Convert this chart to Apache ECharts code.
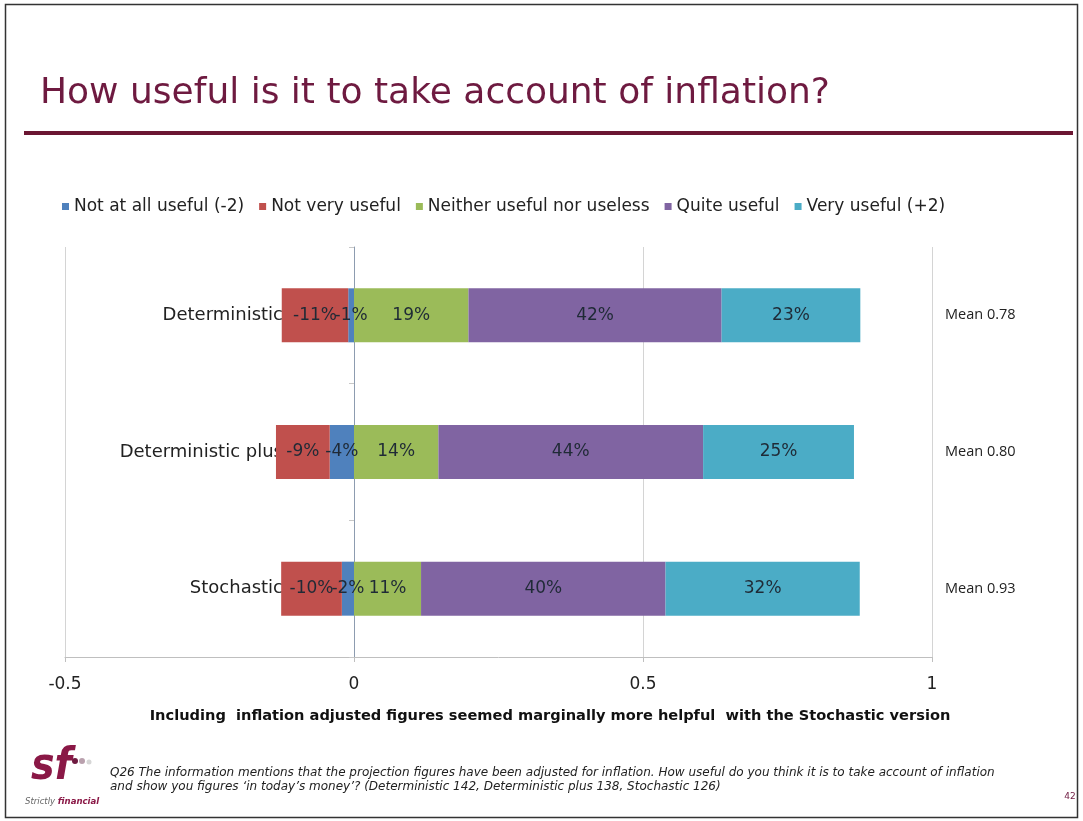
<!DOCTYPE html>
<html lang="en">
<head>
    <meta charset="UTF-8">
    <title>How useful is it to take account of inflation?</title>
    <script src="https://cdn.jsdelivr.net/npm/echarts@6/dist/echarts.min.js"></script>
    <style>
        html, body { margin: 0; padding: 0; background: #fff; }
        #chart { width: 1083px; height: 821px; }
    </style>
</head>
<body>
    <div id="chart"></div>
    <script>
        var categories = ['Deterministic', 'Deterministic plus', 'Stochastic'];
        var means = ['Mean 0.78', 'Mean 0.80', 'Mean 0.93'];
        var seriesNames = ['Not at all useful (-2)', 'Not very useful', 'Neither useful nor useless', 'Quite useful', 'Very useful (+2)'];
        var colors = ['#4f81bd', '#c0504d', '#9bbb59', '#8064a2', '#4bacc6'];

        // bar lengths as drawn (share of answers), negatives to the left of zero
        var notAtAll = [-0.010, -0.042, -0.021];
        var notVery = [-0.115, -0.093, -0.105];
        var neither = [0.198, 0.146, 0.116];
        var quite = [0.438, 0.458, 0.423];
        var very = [0.240, 0.261, 0.336];

        // percentages printed on the bars
        var notAtAllLabels = ['-1%', '-4%', '-2%'];
        var notVeryLabels = ['-11%', '-9%', '-10%'];
        var neitherLabels = ['19%', '14%', '11%'];
        var quiteLabels = ['42%', '44%', '40%'];
        var veryLabels = ['23%', '25%', '32%'];

        var xTicks = { min: -0.5, max: 1, interval: 0.5 };

        var values = [notAtAll, notVery, neither, quite, very];
        var labels = [notAtAllLabels, notVeryLabels, neitherLabels, quiteLabels, veryLabels];

        var font = 'DejaVu Sans';
        var maroon = '#6e1a40';

        var series = seriesNames.map(function (name, i) {
            return {
                name: name,
                type: 'bar',
                stack: 'total',
                barWidth: 54,
                itemStyle: { color: colors[i] },
                label: {
                    show: true,
                    position: 'inside',
                    color: '#1f2a36',
                    fontFamily: font,
                    fontSize: 17,
                    formatter: function (p) { return labels[i][p.dataIndex]; }
                },
                data: values[i]
            };
        });

        var myChart = echarts.init(document.getElementById('chart'));
        myChart.setOption({
            animation: false,
            backgroundColor: '#fff',
            title: {
                text: 'How useful is it to take account of inflation?',
                left: 35,
                top: 71,
                textStyle: { fontFamily: font, fontSize: 36, fontWeight: 'normal', color: maroon }
            },
            legend: {
                left: 57,
                top: 193,
                itemWidth: 7,
                itemHeight: 7,
                itemGap: 15,
                icon: 'rect',
                textStyle: { fontFamily: font, fontSize: 17, color: '#222' },
                data: seriesNames
            },
            grid: { left: 65, right: 151, top: 247, bottom: 164, outerBoundsMode: 'none' },
            xAxis: {
                type: 'value',
                min: xTicks.min,
                max: xTicks.max,
                interval: xTicks.interval,
                axisLine: { show: true, lineStyle: { color: '#bfbfbf' } },
                axisTick: { show: true, length: 5, lineStyle: { color: '#bfbfbf' } },
                axisLabel: { fontFamily: font, fontSize: 17, color: '#222', margin: 19 },
                splitLine: { show: true, lineStyle: { color: '#d4d4d4' } }
            },
            yAxis: [{
                type: 'category',
                inverse: true,
                data: categories,
                axisLine: { show: true, onZero: true, lineStyle: { color: '#8d9cb0' } },
                axisTick: { show: true, length: 5, lineStyle: { color: '#c8c8c8' } },
                axisLabel: { fontFamily: font, fontSize: 18, color: '#222', margin: -218 }
            }, {
                type: 'category',
                inverse: true,
                position: 'right',
                data: means,
                axisLine: { show: false, onZero: false },
                axisTick: { show: false },
                axisLabel: { fontFamily: 'Open Sans', fontSize: 14.5, color: '#222', margin: 13, align: 'left' }
            }],
            series: series,
            graphic: [
                { type: 'rect', shape: { x: 5.5, y: 4.5, width: 1072, height: 813 }, style: { fill: 'none', stroke: '#333', lineWidth: 1.5 } },
                { type: 'rect', shape: { x: 24, y: 131, width: 1049, height: 4 }, style: { fill: '#6b1632' } },
                {
                    type: 'text', x: 550, y: 716,
                    style: {
                        text: 'Including  inflation adjusted figures seemed marginally more helpful  with the Stochastic version',
                        font: 'bold 14.6px "DejaVu Sans"', fill: '#111', textAlign: 'center', textVerticalAlign: 'middle'
                    }
                },
                {
                    type: 'text', x: 110, y: 766,
                    style: {
                        text: 'Q26 The information mentions that the projection figures have been adjusted for inflation. How useful do you think it is to take account of inflation\nand show you figures \u2018in today\u2019s money\u2019? (Deterministic 142, Deterministic plus 138, Stochastic 126)',
                        font: 'italic 12px "DejaVu Sans"', fill: '#222', lineHeight: 14
                    }
                },
                {
                    type: 'text', x: 1070, y: 797,
                    style: { text: '42', font: '9px "DejaVu Sans"', fill: maroon, textAlign: 'center', textVerticalAlign: 'middle' }
                },
                {
                    type: 'text', x: 31, y: 790,
                    style: { text: 'sf', font: 'italic bold 44px "DejaVu Sans Condensed"', fill: '#8a1846', textVerticalAlign: 'bottom' }
                },
                { type: 'circle', shape: { cx: 75, cy: 761, r: 3 }, style: { fill: '#6e1a40' } },
                { type: 'circle', shape: { cx: 82, cy: 761, r: 3 }, style: { fill: '#b9a0ad' } },
                { type: 'circle', shape: { cx: 89, cy: 762, r: 2.5 }, style: { fill: '#d6d6d6' } },
                {
                    type: 'text', x: 25, y: 797,
                    style: {
                        text: '{a|Strictly }{b|financial}',
                        rich: {
                            a: { font: 'italic 9.5px "DejaVu Sans Condensed"', fill: '#666' },
                            b: { font: 'italic bold 9.5px "DejaVu Sans Condensed"', fill: '#8a1846' }
                        }
                    }
                }
            ]
        });
    </script>
</body>
</html>
